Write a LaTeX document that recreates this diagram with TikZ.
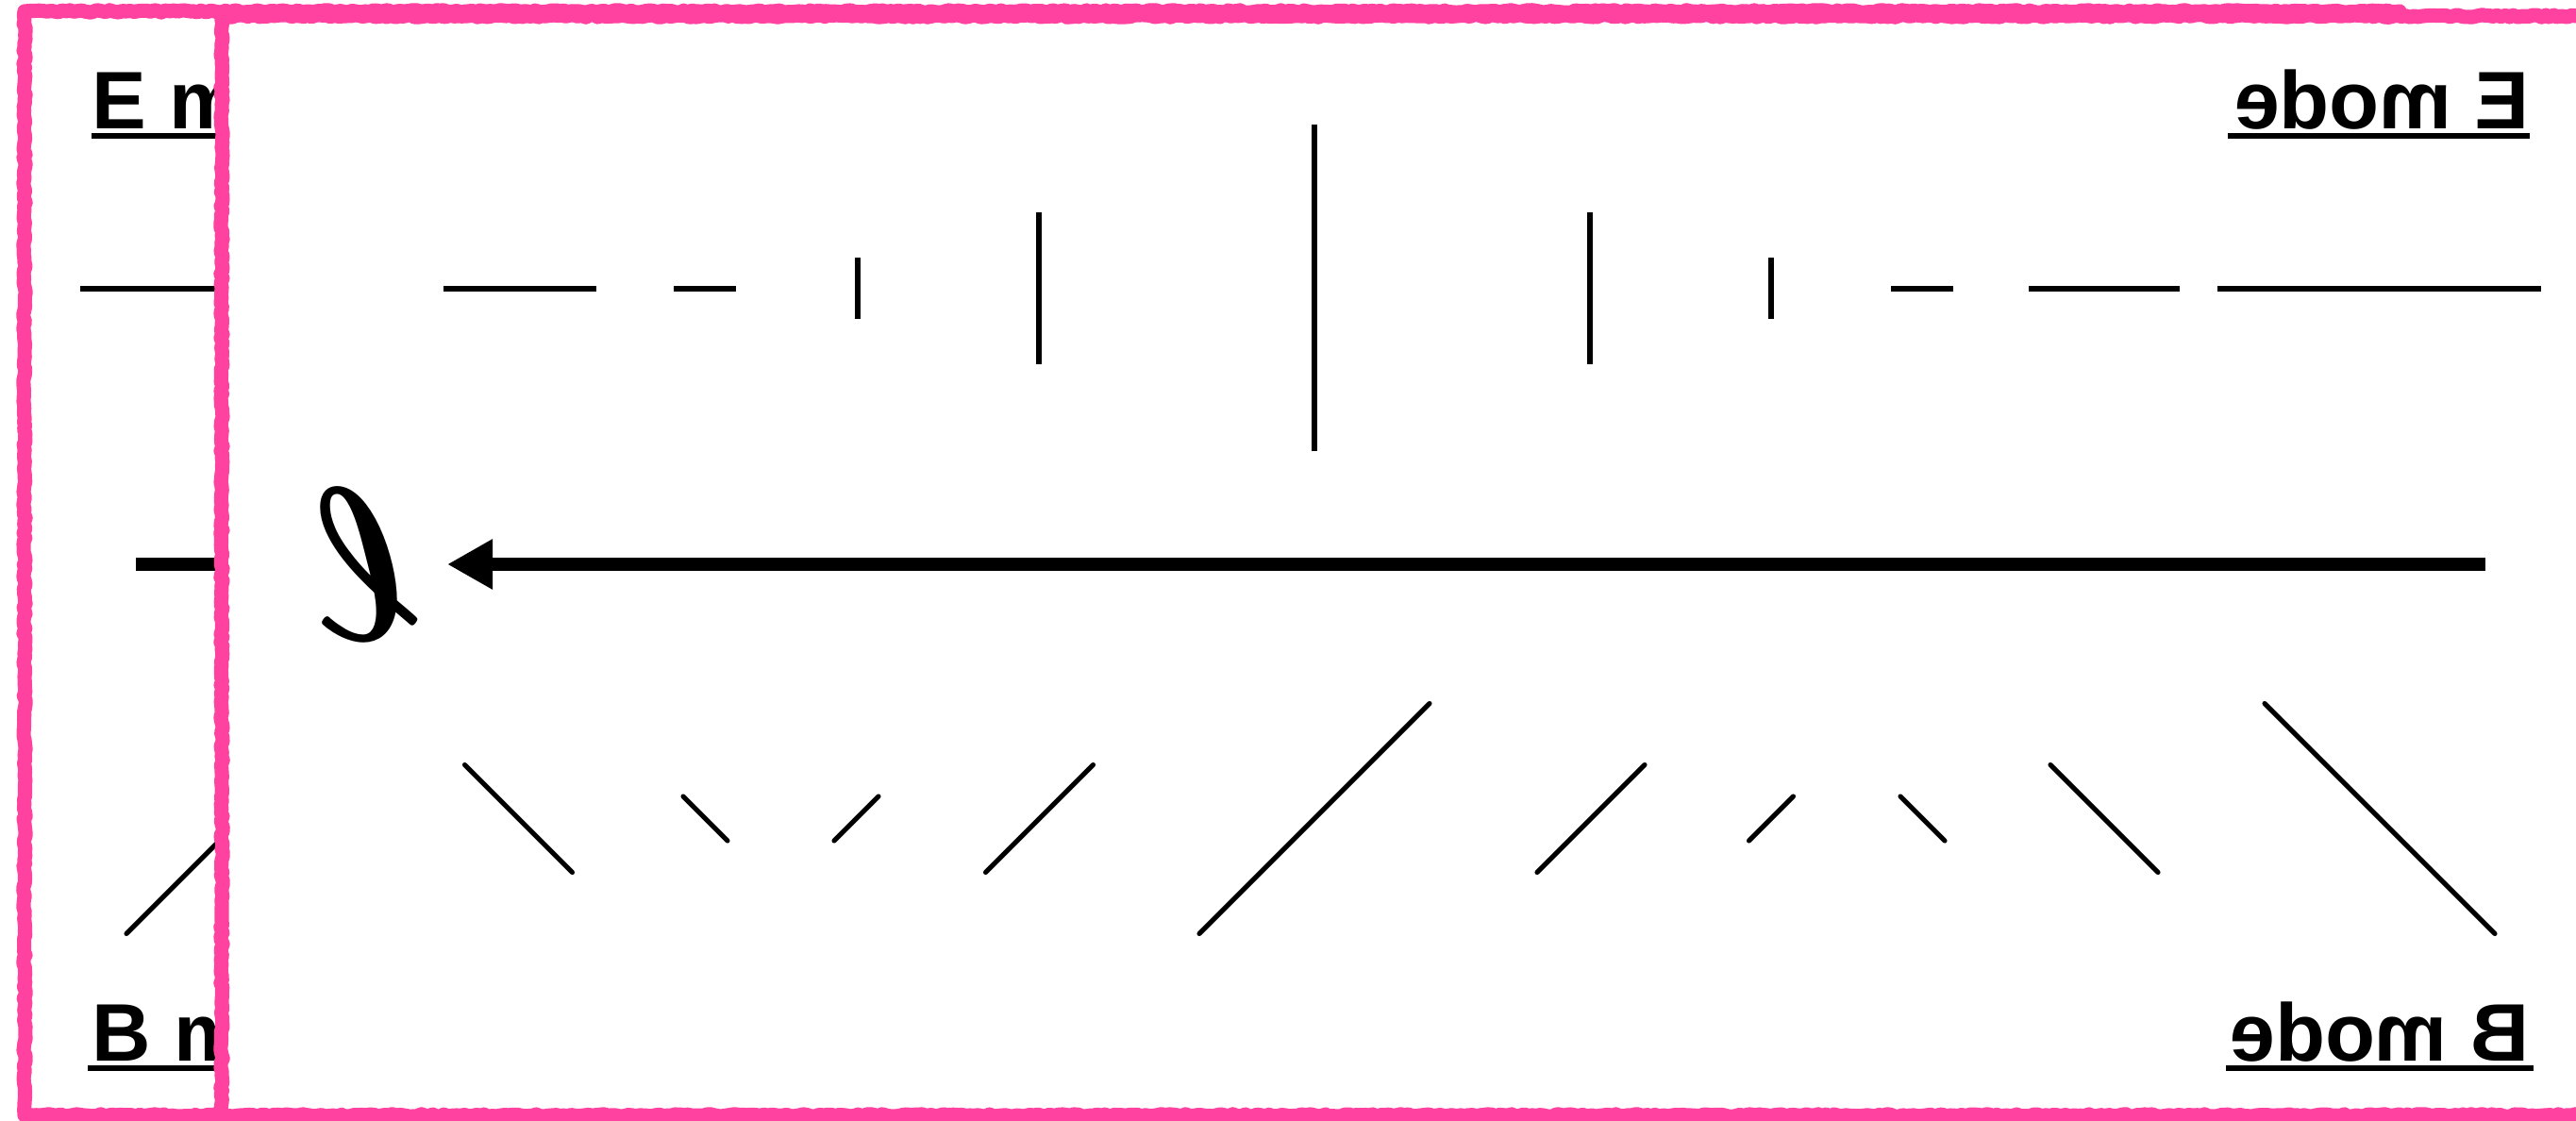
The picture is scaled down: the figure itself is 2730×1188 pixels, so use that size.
\documentclass[tikz,border=0pt]{standalone}
\usepackage{fontspec}
\setmainfont{Liberation Sans}
\usepackage{graphicx}
\usepackage{bm}
\usetikzlibrary{arrows.meta,decorations.pathmorphing}
\definecolor{pinkc}{RGB}{255,66,160}

% content of one panel, in the coordinates of the unmirrored (back) panel
\newcommand\panelcontent[1]{%
  % labels
  \node[modelabel, anchor=base west] (#1emode) at (97,137) {E mode};
  \draw[uline] (97,144) -- (417,144);
  \node[modelabel, anchor=base west] (#1bmode) at (97,1124) {B mode};
  \draw[uline] (93,1132) -- (419,1132);
  % E mode row
  \draw[thinh] (85,306) -- (428,306);
  \draw[thinh] (468,306) -- (628,306);
  \draw[thinh] (708,306) -- (774,306);
  \draw[thinv] (901,273) -- (901,338);
  \draw[thinv] (1093,225) -- (1093,386);
  \draw[thinv] (1385,132) -- (1385,478);
  \draw[thinv] (1677,225) -- (1677,386);
  \draw[thinv] (1869,273) -- (1869,338);
  \draw[thinh] (1998,306) -- (2064,306);
  \draw[thinh] (2146,306) -- (2308,306);
  % arrow towards ell
  \coordinate (#1astart) at (144,598);
  \node[ellnode, anchor=west] (#1ell) at (2304,598) {\scalebox{6.6}{$\bm{\ell}$}};
  \draw[thickarrow] (#1astart) -- (#1ell.west);
  % B mode row
  \draw[diag] (134,989.5) -- (378,745.5);
  \draw[diag] (491,924.5) -- (605,810.5);
  \draw[diag] (717,891) -- (764,844);
  \draw[diag] (877.5,844) -- (924.5,891);
  \draw[diag] (1035,810.5) -- (1149,924.5);
  \draw[diag] (1263,745.5) -- (1507,989.5);
  \draw[diag] (1619.5,810.5) -- (1733.5,924.5);
  \draw[diag] (1847,844) -- (1894,891);
  \draw[diag] (2007,891) -- (2054,844);
  \draw[diag] (2171.5,924.5) -- (2285.5,810.5);
}

\begin{document}
\begin{tikzpicture}[x=0.01cm, y=-0.01cm,
  thinh/.style={line width=1.7pt},
  thinv/.style={line width=1.45pt},
  diag/.style={line width=1.45pt, line cap=round},
  thickarrow/.style={line width=4pt, -{Triangle[length=0.48cm,width=0.5cm]}},
  uline/.style={line width=1.5pt},
  modelabel/.style={inner sep=0, font=\fontsize{24.6pt}{30pt}\selectfont\bfseries},
  ellnode/.style={inner sep=0.3cm},
  panelborder/.style={draw=pinkc, line width=4.3pt, line join=round, decorate,
    decoration={random steps, segment length=1.2pt, amplitude=0.35pt}}
]
\pgfmathsetseed{42}
\useasboundingbox (0,0) rectangle (2730,1188);
\clip (0,0) rectangle (2730,1188);
\fill[white] (0,0) rectangle (2730,1188);

% back panel (original orientation)
\draw[panelborder, fill=white] (26,12) rectangle (2543,1182);
\panelcontent{back}

% front panel (mirror image, overlapping)
\draw[panelborder, fill=white] (235,17) rectangle (2752,1182);
\begin{scope}[shift={(2778,0)}, xscale=-1, every node/.append style={transform shape}]
  \panelcontent{front}
\end{scope}
\end{tikzpicture}
\end{document}
